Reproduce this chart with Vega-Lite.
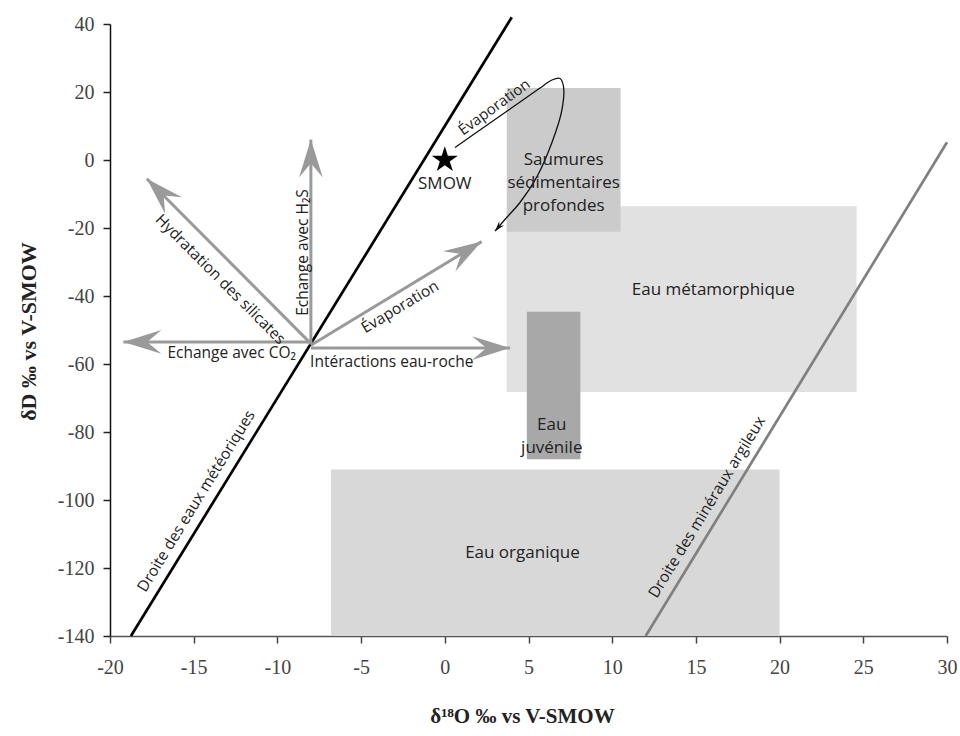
{
  "$schema": "https://vega.github.io/schema/vega-lite/v6.json",
  "width": 837,
  "height": 612,
  "autosize": {"type": "none"},
  "padding": {"left": 110, "top": 24, "right": 13, "bottom": 100},
  "config": {
    "view": {"stroke": null},
    "axis": {"grid": false},
    "axisX": {
      "tickSize": 7, "tickWidth": 1.5, "tickColor": "#444",
      "domainColor": "#555", "domainWidth": 1.5,
      "labelFont": "Liberation Serif", "labelFontSize": 20, "labelColor": "#444",
      "labelPadding": 14, "labelFlush": false, "labelOverlap": false,
      "titleFont": "Liberation Serif", "titleFontSize": 21, "titleFontWeight": "bold", "titleColor": "#222",
      "titleX": 412, "titleY": 86, "titleBaseline": "alphabetic", "titleAlign": "center"
    },
    "axisY": {
      "tickSize": 7, "tickWidth": 1.5, "tickColor": "#222",
      "domainColor": "#111", "domainWidth": 1.5,
      "labelFont": "Liberation Serif", "labelFontSize": 20, "labelColor": "#444",
      "labelPadding": 9, "labelFlush": false, "labelOverlap": false,
      "titleFont": "Liberation Serif", "titleFontSize": 22, "titleFontWeight": "bold", "titleColor": "#222",
      "titleAngle": -90, "titleX": -75, "titleY": 307, "titleBaseline": "alphabetic", "titleAlign": "center"
    }
  },
  "resolve": {"scale": {"color": "independent", "size": "independent"}},
  "datasets": {
    "zones": [
      {"zone": "Eau organique", "x1": -6.8, "x2": 20, "y1": -140, "y2": -91},
      {"zone": "Eau métamorphique", "x1": 3.7, "x2": 24.6, "y1": -68.2, "y2": -13.6},
      {"zone": "Saumures sédimentaires profondes", "x1": 3.7, "x2": 10.5, "y1": -21.1, "y2": 21.2},
      {"zone": "Eau juvénile", "x1": 4.9, "x2": 8.1, "y1": -88, "y2": -44.6}
    ],
    "droites": [
      {"droite": "Droite des eaux météoriques", "x": -18.75, "y": -140},
      {"droite": "Droite des eaux météoriques", "x": 4.0, "y": 42},
      {"droite": "Droite des minéraux argileux", "x": 12, "y": -140},
      {"droite": "Droite des minéraux argileux", "x": 30, "y": 5.2}
    ],
    "courbe": [
      {"i": 1, "x": 0.61, "y": 3.68},
      {"i": 2, "x": 3.6, "y": 13.97},
      {"i": 3, "x": 5.69, "y": 21.18},
      {"i": 4, "x": 6.4, "y": 23.53},
      {"i": 5, "x": 6.88, "y": 23.97},
      {"i": 6, "x": 7.09, "y": 21.62},
      {"i": 7, "x": 7.0, "y": 14.85},
      {"i": 8, "x": 6.4, "y": 5.15},
      {"i": 9, "x": 5.51, "y": -4.85},
      {"i": 10, "x": 4.49, "y": -12.5},
      {"i": 11, "x": 3.54, "y": -17.79},
      {"i": 12, "x": 3.0, "y": -20.94}
    ],
    "fleches": [
      {"fleche": "Echange avec CO2", "kind": "gris", "x0": -8, "y0": -53.5, "x1": -19.2, "y1": -53.5},
      {"fleche": "Hydratation des silicates", "kind": "gris", "x0": -8, "y0": -54, "x1": -17.8, "y1": -5.5},
      {"fleche": "Echange avec H2S", "kind": "gris", "x0": -8, "y0": -54, "x1": -8, "y1": 6},
      {"fleche": "Évaporation", "kind": "gris", "x0": -8, "y0": -54.5, "x1": 2.2, "y1": -24},
      {"fleche": "Intéractions eau-roche", "kind": "gris", "x0": -8, "y0": -55.3, "x1": 3.9, "y1": -55.3},
      {"fleche": "Évaporation (saumures)", "kind": "noir", "x0": 3.54, "y0": -17.79, "x1": 3.0, "y1": -20.94}
    ],
    "smow": [{"nom": "SMOW", "x": 0, "y": 0}],
    "etiquettes": [
      {"cible": "zone", "texte": "Saumures\nsédimentaires\nprofondes", "x": 7.1, "y": 0.1},
      {"cible": "zone", "texte": "Eau métamorphique", "x": 16.04, "y": -38.3},
      {"cible": "zone", "texte": "Eau\njuvénile", "x": 6.39, "y": -77.8},
      {"cible": "zone", "texte": "Eau organique", "x": 4.64, "y": -115.7},
      {"cible": "zone", "texte": "SMOW", "x": 0, "y": -7.2},
      {"cible": "co2", "texte": "Echange avec CO₂", "x": -12.73, "y": -56.9},
      {"cible": "roche", "texte": "Intéractions eau-roche", "x": -3.17, "y": -59.4},
      {"cible": "h2s", "texte": "Echange avec H₂S", "x": -8.45, "y": -27.2},
      {"cible": "silicates", "texte": "Hydratation des silicates", "x": -13.4, "y": -35.1},
      {"cible": "evap", "texte": "Évaporation", "x": -2.68, "y": -43.2},
      {"cible": "evap2", "texte": "Évaporation", "x": 2.95, "y": 15.6},
      {"cible": "meteo", "texte": "Droite des eaux météoriques", "x": -14.85, "y": -100.3},
      {"cible": "argile", "texte": "Droite des minéraux argileux", "x": 15.66, "y": -102.1}
    ]
  },
  "layer": [
    {
      "data": {"name": "zones"},
      "mark": {"type": "rect", "opacity": 1},
      "encoding": {
        "x": {
          "field": "x1", "type": "quantitative", "title": "δ¹⁸O ‰ vs V-SMOW",
          "scale": {"domain": [-20, 30], "nice": false, "zero": false},
          "axis": {"values": [-20, -15, -10, -5, 0, 5, 10, 15, 20, 25, 30], "labelExpr": "'' + datum.value"}
        },
        "x2": {"field": "x2"},
        "y": {
          "field": "y1", "type": "quantitative", "title": "δD ‰ vs V-SMOW",
          "scale": {"domain": [-140, 40], "nice": false, "zero": false},
          "axis": {"values": [-140, -120, -100, -80, -60, -40, -20, 0, 20, 40], "labelExpr": "'' + datum.value"}
        },
        "y2": {"field": "y2"},
        "color": {
          "field": "zone", "type": "nominal", "legend": null,
          "scale": {
            "domain": ["Eau organique", "Eau métamorphique", "Saumures sédimentaires profondes", "Eau juvénile"],
            "range": ["#d8d8d8", "#e1e1e1", "#cbcbcb", "#a8a8a8"]
          }
        }
      }
    },
    {
      "data": {"name": "droites"},
      "mark": {"type": "line", "strokeWidth": 2.7},
      "encoding": {
        "x": {"field": "x", "type": "quantitative", "title": "δ¹⁸O ‰ vs V-SMOW"},
        "y": {"field": "y", "type": "quantitative", "title": "δD ‰ vs V-SMOW"},
        "detail": {"field": "droite"},
        "color": {
          "field": "droite", "type": "nominal", "legend": null,
          "scale": {"domain": ["Droite des eaux météoriques", "Droite des minéraux argileux"], "range": ["#000000", "#808080"]}
        }
      }
    },
    {
      "data": {"name": "fleches"},
      "transform": [{"filter": "datum.kind == 'gris'"}],
      "mark": {"type": "rule", "strokeWidth": 3, "color": "#9a9a9a"},
      "encoding": {
        "x": {"field": "x0", "type": "quantitative", "title": "δ¹⁸O ‰ vs V-SMOW"},
        "y": {"field": "y0", "type": "quantitative", "title": "δD ‰ vs V-SMOW"},
        "x2": {"field": "x1"},
        "y2": {"field": "y1"}
      }
    },
    {
      "data": {"name": "courbe"},
      "mark": {"type": "line", "strokeWidth": 1.3, "color": "#111111", "interpolate": "catmull-rom"},
      "encoding": {
        "x": {"field": "x", "type": "quantitative", "title": "δ¹⁸O ‰ vs V-SMOW"},
        "y": {"field": "y", "type": "quantitative", "title": "δD ‰ vs V-SMOW"},
        "order": {"field": "i", "type": "quantitative"}
      }
    },
    {
      "data": {"name": "fleches"},
      "transform": [
        {"calculate": "atan2((datum.x1 - datum.x0) * 837 / 50, (datum.y1 - datum.y0) * 612 / 180) * 180 / PI", "as": "angle"}
      ],
      "mark": {"type": "point", "shape": "M0,0 L0.625,2 L0,1.25 L-0.625,2 Z", "filled": true, "opacity": 1, "strokeWidth": 0},
      "encoding": {
        "x": {"field": "x1", "type": "quantitative", "title": "δ¹⁸O ‰ vs V-SMOW"},
        "y": {"field": "y1", "type": "quantitative", "title": "δD ‰ vs V-SMOW"},
        "angle": {"field": "angle", "type": "quantitative", "scale": null},
        "color": {"field": "kind", "type": "nominal", "legend": null, "scale": {"domain": ["gris", "noir"], "range": ["#9a9a9a", "#111111"]}},
        "size": {"field": "kind", "type": "ordinal", "legend": null, "scale": {"domain": ["gris", "noir"], "range": [1444, 110]}}
      }
    },
    {
      "data": {"name": "smow"},
      "mark": {"type": "point", "shape": "M0,-1 L0.2245,-0.309 L0.951,-0.309 L0.363,0.118 L0.588,0.809 L0,0.382 L-0.588,0.809 L-0.363,0.118 L-0.951,-0.309 L-0.2245,-0.309 Z", "filled": true, "opacity": 1, "size": 750, "color": "#000000", "strokeWidth": 0},
      "encoding": {
        "x": {"field": "x", "type": "quantitative", "title": "δ¹⁸O ‰ vs V-SMOW"},
        "y": {"field": "y", "type": "quantitative", "title": "δD ‰ vs V-SMOW"}
      }
    },
    {
      "data": {"name": "etiquettes"},
      "transform": [{"filter": "datum.cible == 'zone'"}],
      "mark": {"type": "text", "font": "Open Sans", "fontSize": 17, "color": "#222222", "align": "center", "baseline": "middle", "lineBreak": "\n", "lineHeight": 23},
      "encoding": {
        "x": {"field": "x", "type": "quantitative", "title": "δ¹⁸O ‰ vs V-SMOW"},
        "y": {"field": "y", "type": "quantitative", "title": "δD ‰ vs V-SMOW"},
        "text": {"field": "texte"}
      }
    },
    {
      "data": {"name": "etiquettes"},
      "transform": [{"filter": "datum.cible == 'co2' || datum.cible == 'roche'"}],
      "mark": {"type": "text", "font": "Open Sans", "fontSize": 15.5, "color": "#222222", "align": "center", "baseline": "middle"},
      "encoding": {
        "x": {"field": "x", "type": "quantitative", "title": "δ¹⁸O ‰ vs V-SMOW"},
        "y": {"field": "y", "type": "quantitative", "title": "δD ‰ vs V-SMOW"},
        "text": {"field": "texte"}
      }
    },
    {
      "data": {"name": "etiquettes"},
      "transform": [{"filter": "datum.cible == 'h2s'"}],
      "mark": {"type": "text", "font": "Open Sans", "fontSize": 15.5, "color": "#222222", "align": "center", "baseline": "middle", "angle": -90},
      "encoding": {
        "x": {"field": "x", "type": "quantitative", "title": "δ¹⁸O ‰ vs V-SMOW"},
        "y": {"field": "y", "type": "quantitative", "title": "δD ‰ vs V-SMOW"},
        "text": {"field": "texte"}
      }
    },
    {
      "data": {"name": "etiquettes"},
      "transform": [{"filter": "datum.cible == 'silicates'"}],
      "mark": {"type": "text", "font": "Open Sans", "fontSize": 15.5, "color": "#222222", "align": "center", "baseline": "middle", "angle": 45},
      "encoding": {
        "x": {"field": "x", "type": "quantitative", "title": "δ¹⁸O ‰ vs V-SMOW"},
        "y": {"field": "y", "type": "quantitative", "title": "δD ‰ vs V-SMOW"},
        "text": {"field": "texte"}
      }
    },
    {
      "data": {"name": "etiquettes"},
      "transform": [{"filter": "datum.cible == 'evap'"}],
      "mark": {"type": "text", "font": "Open Sans", "fontSize": 15.5, "color": "#222222", "align": "center", "baseline": "middle", "angle": -31},
      "encoding": {
        "x": {"field": "x", "type": "quantitative", "title": "δ¹⁸O ‰ vs V-SMOW"},
        "y": {"field": "y", "type": "quantitative", "title": "δD ‰ vs V-SMOW"},
        "text": {"field": "texte"}
      }
    },
    {
      "data": {"name": "etiquettes"},
      "transform": [{"filter": "datum.cible == 'evap2'"}],
      "mark": {"type": "text", "font": "Open Sans", "fontSize": 15, "color": "#222222", "align": "center", "baseline": "middle", "angle": -36},
      "encoding": {
        "x": {"field": "x", "type": "quantitative", "title": "δ¹⁸O ‰ vs V-SMOW"},
        "y": {"field": "y", "type": "quantitative", "title": "δD ‰ vs V-SMOW"},
        "text": {"field": "texte"}
      }
    },
    {
      "data": {"name": "etiquettes"},
      "transform": [{"filter": "datum.cible == 'meteo'"}],
      "mark": {"type": "text", "font": "Open Sans", "fontSize": 15.5, "color": "#222222", "align": "center", "baseline": "middle", "angle": -58.4},
      "encoding": {
        "x": {"field": "x", "type": "quantitative", "title": "δ¹⁸O ‰ vs V-SMOW"},
        "y": {"field": "y", "type": "quantitative", "title": "δD ‰ vs V-SMOW"},
        "text": {"field": "texte"}
      }
    },
    {
      "data": {"name": "etiquettes"},
      "transform": [{"filter": "datum.cible == 'argile'"}],
      "mark": {"type": "text", "font": "Open Sans", "fontSize": 15.5, "color": "#222222", "align": "center", "baseline": "middle", "angle": -58.6},
      "encoding": {
        "x": {"field": "x", "type": "quantitative", "title": "δ¹⁸O ‰ vs V-SMOW"},
        "y": {"field": "y", "type": "quantitative", "title": "δD ‰ vs V-SMOW"},
        "text": {"field": "texte"}
      }
    }
  ]
}
